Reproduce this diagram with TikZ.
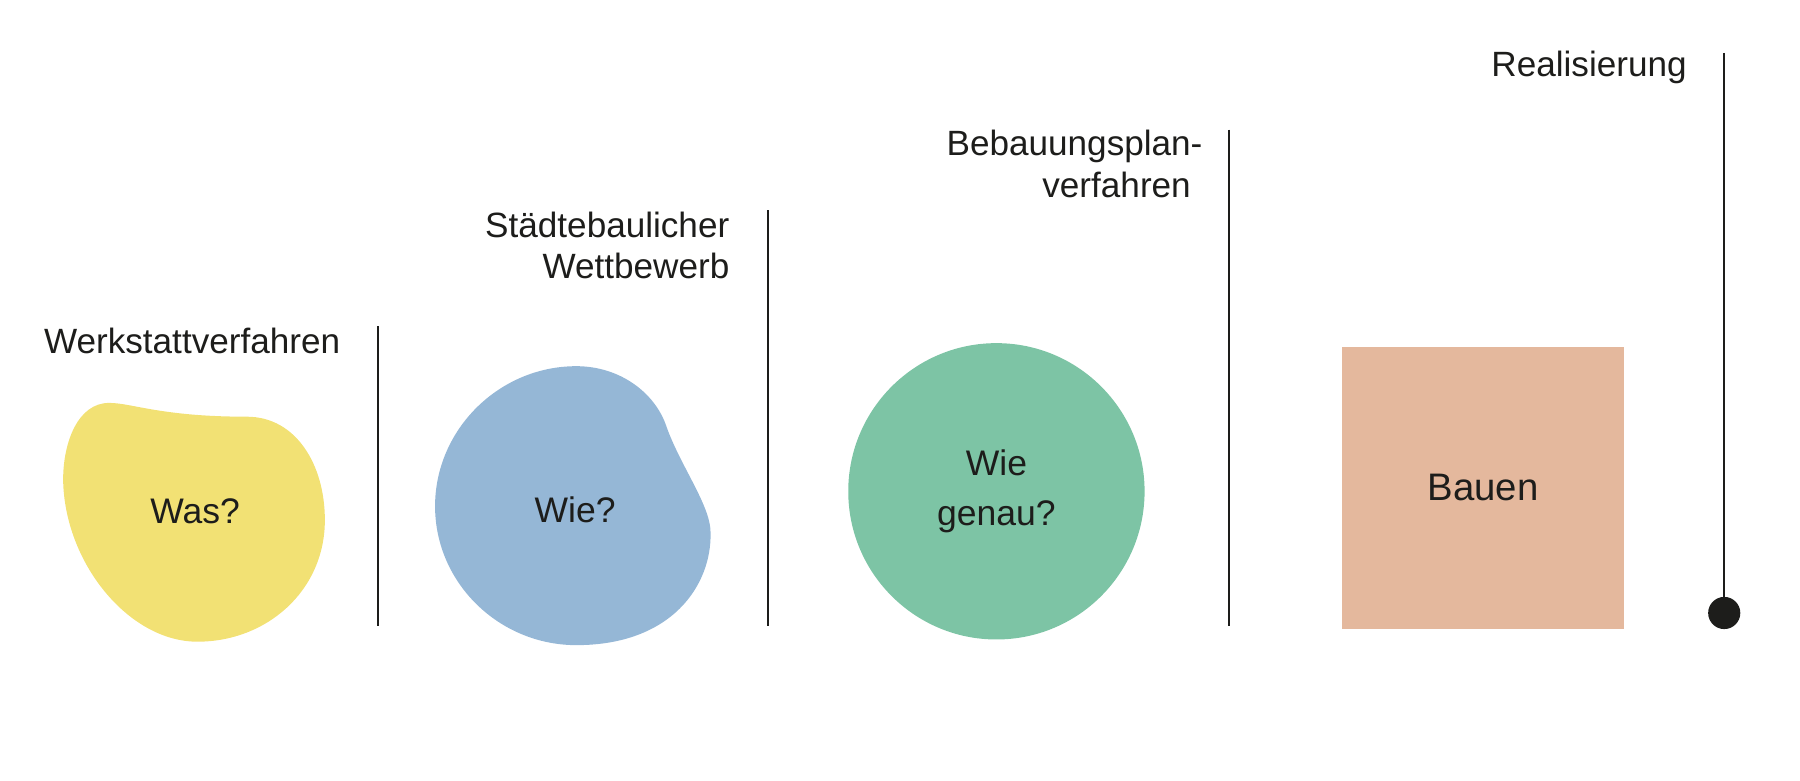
\documentclass[tikz,border=0pt]{standalone}
\usepackage{fontspec}
\setmainfont{Liberation Sans}
\usetikzlibrary{positioning}
\definecolor{ink}{HTML}{1D1D1B}
\definecolor{gelb}{HTML}{F2E174}
\definecolor{blau}{HTML}{95B7D6}
\definecolor{gruen}{HTML}{7DC4A5}
\definecolor{lachs}{HTML}{E4B89D}

\begin{document}
\begin{tikzpicture}[
			x=0.01cm, y=-0.01cm,
			every node/.style={text=ink},
			phase/.style={anchor=north east, inner sep=0pt, align=right, font=\fontsize{8.7}{10.2}\selectfont},
			frage/.style={inner sep=0pt, align=center, font=\fontsize{8.8}{12.4}\selectfont},
			trenner/.style={draw=ink, line width=0.5pt},
			]
			
			\useasboundingbox (0,0) rectangle (1568,680);
			
			% Formen
			\fill[gelb] (95,351) .. controls (115,351) and (140,363) .. (215,363)
				.. controls (258,363) and (283,405) .. (283,453)
				.. controls (283,515) and (232,559) .. (172,559)
				.. controls (112,559) and (56,490) .. (55,418)
				.. controls (55,385) and (68,351) .. cycle;
			\fill[blau] (502,319) .. controls (540,319) and (570,342) .. (580,370)
				.. controls (592,405) and (619,440) .. (619,464)
				.. controls (620,510) and (585,562) .. (502,562)
				.. controls (435,562) and (379,508) .. (379,441)
				.. controls (379,374) and (435,319) .. cycle;
			
			\node[frage] (was) at (170,445) {Was?};
			\node[frage] (wie) at (501,444) {Wie?};
			\node[frage, circle, fill=gruen, minimum size=2.58cm] (genau) at (868,428) {Wie\\genau?};
			\node[fill=lachs, minimum size=2.46cm, inner sep=0pt, font=\fontsize{9.5}{11}\selectfont] (bauen) at (1292,425) {Bauen};
			
			% Trennlinien
			\coordinate (t1) at (329,284);
			\coordinate (b1) at (329,545);
			\coordinate (t2) at (669,183);
			\coordinate (b2) at (669,545);
			\coordinate (t3) at (1071,113);
			\coordinate (b3) at (1071,545);
			\coordinate (t4) at (1502,46);
			\node[circle, fill=ink, minimum size=0.28cm, inner sep=0pt] (ende) at (1502,534) {};
			
			\draw[trenner] (t1) -- (b1);
			\draw[trenner] (t2) -- (b2);
			\draw[trenner] (t3) -- (b3);
			\draw[trenner] (t4) -- (ende.center);
			
			\node[phase] (werkstatt) at (297,285) {Werkstattverfahren};
			\node[phase] (wettbewerb) at (636,184) {Städtebaulicher\\Wettbewerb};
			\node[phase] (bplan) at (1038,113) {Bebauungsplan\rlap{-}\\verfahren};
			\node[phase] (real) at (1470,44) {Realisierung};
			
		\end{tikzpicture}
\end{document}
